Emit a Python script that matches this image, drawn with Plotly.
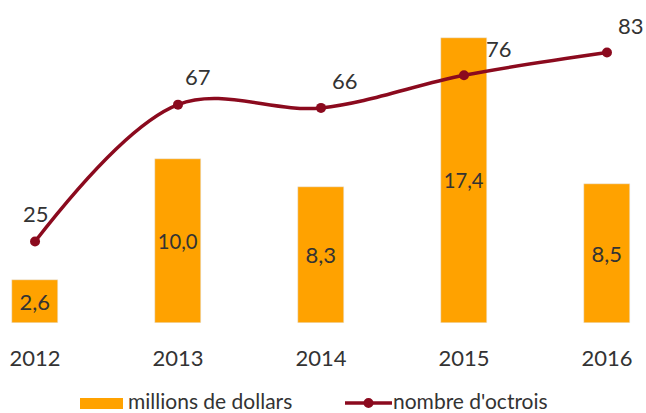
import plotly.graph_objects as go

years = ["2012", "2013", "2014", "2015", "2016"]
millions = [2.6, 10.0, 8.3, 17.4, 8.5]
millions_labels = ["2,6", "10,0", "8,3", "17,4", "8,5"]
octrois = [25, 67, 66, 76, 83]
legend_names = ["millions de dollars", "nombre d'octrois"]

xpos = list(range(len(years)))
FONT = "Lato, 'Open Sans', sans-serif"
TXT = "#333333"
ORANGE = "#FFA200"
RED = "#8B0A1E"
FS = 22
LFS = 21

fig = go.Figure()
fig.add_trace(go.Bar(
    x=xpos, y=millions, name=legend_names[0],
    marker_color=ORANGE, width=0.32,
    text=millions_labels, textposition="inside", insidetextanchor="middle",
    textfont=dict(size=FS, color=TXT, family=FONT), textangle=0,
    showlegend=False,
))
fig.add_trace(go.Scatter(
    x=xpos, y=octrois, name=legend_names[1], yaxis="y2",
    mode="lines+markers",
    line=dict(color=RED, width=3.5, shape="spline", smoothing=1),
    marker=dict(size=10, color=RED),
    showlegend=False,
))

shifts = [(1, 28), (20, 28), (24, 27), (35, 27), (24, 27)]
for x, v, (dx, dy) in zip(xpos, octrois, shifts):
    fig.add_annotation(x=x, y=v, xref="x", yref="y2", text=str(v),
                       showarrow=False, xshift=dx, yshift=dy,
                       font=dict(size=FS, color=TXT, family=FONT))

# custom legend (paper coordinates)
W, H = 626.0, 313.0
def px(xp):
    return (xp - 10) / W
def py(yp):
    return (323 - yp) / H

fig.add_shape(type="rect", xref="paper", yref="paper",
              x0=px(80), x1=px(123), y0=py(409), y1=py(398),
              fillcolor=ORANGE, line=dict(width=0))
fig.add_annotation(xref="paper", yref="paper", x=px(126), y=py(400),
                   xanchor="left", yanchor="middle", showarrow=False,
                   text=legend_names[0], font=dict(size=LFS, color=TXT, family=FONT))
fig.add_shape(type="line", xref="paper", yref="paper",
              x0=px(345), x1=px(392), y0=py(403), y1=py(403),
              line=dict(color=RED, width=3.5))
fig.add_shape(type="circle", xref="paper", yref="paper",
              x0=px(363.5), x1=px(373.5), y0=py(408), y1=py(398),
              fillcolor=RED, line=dict(width=0))
fig.add_annotation(xref="paper", yref="paper", x=px(391), y=py(400),
                   xanchor="left", yanchor="middle", showarrow=False,
                   text=legend_names[1], font=dict(size=LFS, color=TXT, family=FONT))

fig.update_layout(
    width=646, height=413,
    margin=dict(l=10, r=10, t=10, b=90, autoexpand=False),
    paper_bgcolor="white", plot_bgcolor="white",
    font=dict(family=FONT, size=FS, color=TXT),
    showlegend=False,
    xaxis=dict(range=[-0.175, 4.203], tickmode="array", tickvals=xpos, ticktext=years,
               showgrid=False, zeroline=False, showline=False,
               ticks="", ticklabelstandoff=20, tickfont=dict(size=FS, color=TXT)),
    yaxis=dict(range=[0, 19.11], visible=False, showgrid=False, zeroline=False),
    yaxis2=dict(range=[0, 96.04], overlaying="y", side="right", visible=False,
                showgrid=False, zeroline=False),
    bargap=0,
)

fig.write_html("out.html", config={"displayModeBar": False},
               post_script="document.body.style.margin='0';document.body.style.overflow='hidden';")
